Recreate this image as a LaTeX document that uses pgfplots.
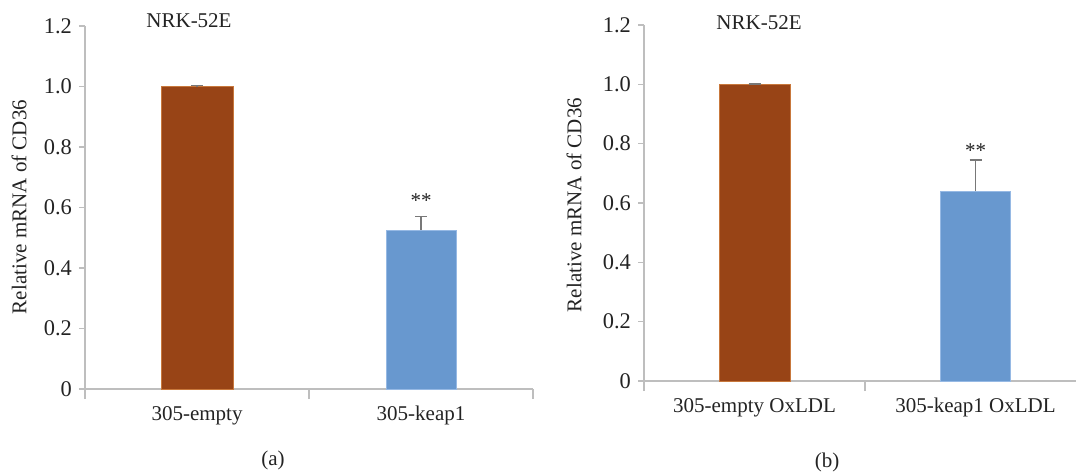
\documentclass[border=0pt]{standalone}
\usepackage{fontspec}
\setmainfont{Liberation Serif}
\usepackage{pgfplots}
\pgfplotsset{compat=1.18}

\definecolor{barbrown}{RGB}{152,68,22}
\definecolor{edgebrown}{RGB}{200,120,60}
\definecolor{barblue}{RGB}{104,152,207}
\definecolor{edgeblue}{RGB}{150,185,228}
\definecolor{axisgray}{RGB}{190,190,190}
\definecolor{errgray}{RGB}{120,120,120}
\definecolor{textgray}{RGB}{35,35,35}

\newcommand{\lbl}{\fontsize{10.5}{12}\selectfont}
\newcommand{\tck}{\fontsize{11.2}{12}\selectfont}

\pgfplotsset{
  panel/.style={
    scale only axis, anchor=south west,
    xmin=-0.5, xmax=1.5, ymin=0, ymax=1.2,
    axis x line=bottom, axis y line=left,
    axis line style={-, draw=axisgray, line width=0.7pt},
    ytick={0,0.2,0.4,0.6,0.8,1.0,1.2},
    yticklabels={0,0.2,0.4,0.6,0.8,1.0,1.2},
    xtick={0,1}, minor xtick={-0.5,0.5,1.5},
    tick align=outside,
    major tick length=3pt, minor tick length=5pt,
    major x tick style={draw=none},
    y tick style={draw=axisgray, line width=0.7pt},
    minor x tick style={draw=axisgray, line width=0.7pt},
    ticklabel style={font=\lbl, text=textgray},
    yticklabel style={font=\tck},
    xticklabel style={yshift=-2pt},
    /pgf/number format/assume math mode=true,
    clip=false,
  },
  errstyle/.style={
    error bars/.cd, y dir=plus, y explicit,
    error bar style={color=errgray, line width=0.8pt},
    error mark options={rotate=90, mark size=3pt, color=errgray, line width=0.8pt},
  },
}

\begin{document}
\begin{tikzpicture}
\useasboundingbox (0,0) rectangle (538pt,236pt);
\clip (0,0) rectangle (538pt,236pt);

% panel (a)
\begin{axis}[panel, at={(42.5pt,41.5pt)}, width=224pt, height=181.5pt,
  xticklabels={305-empty,305-keap1}]
  \addplot[ybar, bar shift=0pt, bar width=36pt, fill=barbrown, draw=edgebrown, line width=0.5pt, errstyle]
    coordinates {(0,1.0) +- (0,0.003)};
  \addplot[ybar, bar shift=0pt, bar width=35pt, fill=barblue, draw=edgeblue, line width=0.5pt, errstyle]
    coordinates {(1,0.525) +- (0,0.045)};
  \node[text=textgray, font=\lbl] at (axis cs:1,0.622) {**};
\end{axis}
\node[font=\lbl, text=textgray] at (94.5pt,225.5pt) {NRK-52E};
\node[font=\lbl, text=textgray, rotate=90] at (9.5pt,132.5pt) {Relative mRNA of CD36};
\node[font=\lbl, text=textgray] at (136.5pt,6pt) {(a)};

% panel (b)
\begin{axis}[panel, at={(322pt,45.5pt)}, width=221pt, height=178pt,
  xticklabels={305-empty OxLDL,305-keap1 OxLDL}]
  \addplot[ybar, bar shift=0pt, bar width=35.5pt, fill=barbrown, draw=edgebrown, line width=0.5pt, errstyle]
    coordinates {(0,1.0) +- (0,0.002)};
  \addplot[ybar, bar shift=0pt, bar width=35pt, fill=barblue, draw=edgeblue, line width=0.5pt, errstyle]
    coordinates {(1,0.64) +- (0,0.105)};
  \node[text=textgray, font=\lbl] at (axis cs:1,0.777) {**};
\end{axis}
\node[font=\lbl, text=textgray] at (379.5pt,224.5pt) {NRK-52E};
\node[font=\lbl, text=textgray, rotate=90] at (287pt,133.5pt) {Relative mRNA of CD36};
\node[font=\lbl, text=textgray] at (413.5pt,5pt) {(b)};
\end{tikzpicture}
\end{document}
